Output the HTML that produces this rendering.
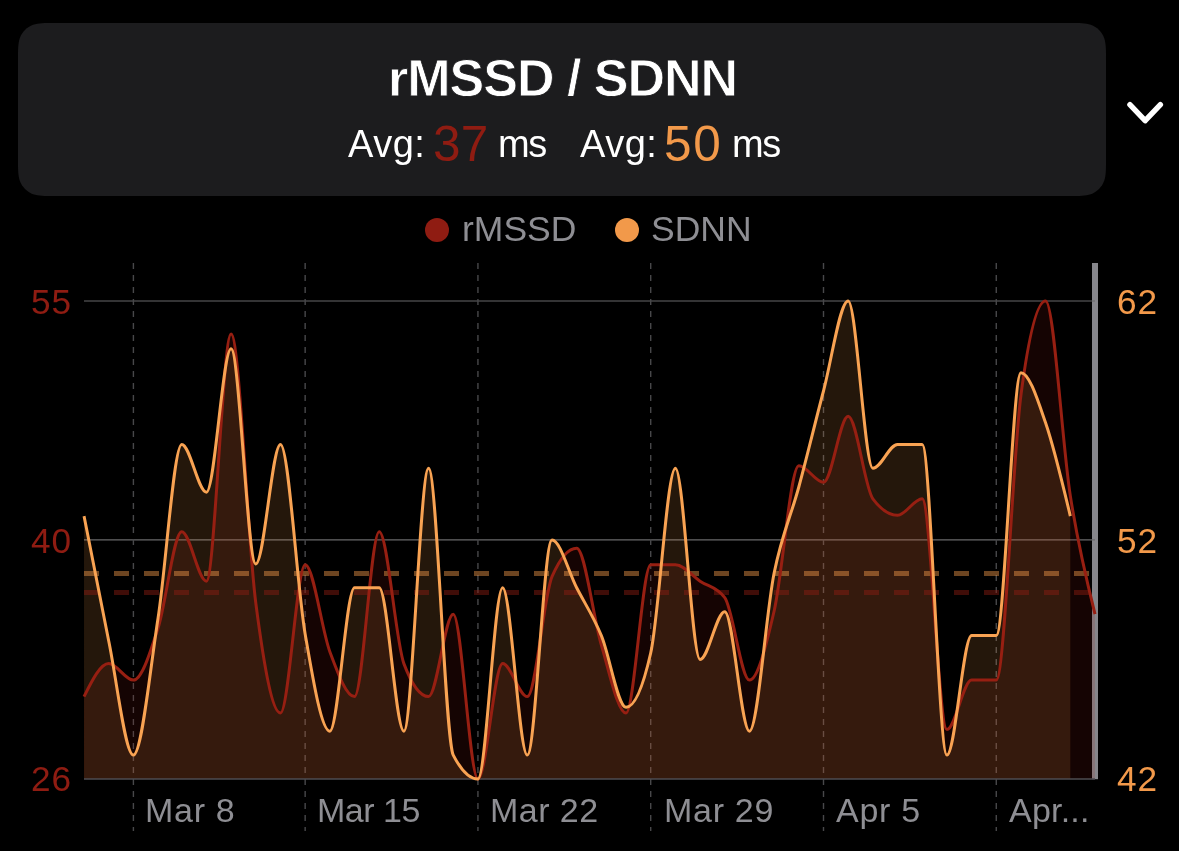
<!DOCTYPE html>
<html><head><meta charset="utf-8">
<style>
html,body{margin:0;padding:0;background:#000;}
body{width:1179px;height:851px;position:relative;overflow:hidden;font-family:"Liberation Sans",sans-serif;}
.card{position:absolute;left:18px;top:23px;width:1088px;height:173px;background:#1c1c1e;border-radius:27px;}
.t{position:absolute;white-space:nowrap;line-height:1;}
.t,.yl,.xl{transform:translateZ(0);will-change:transform;}
.title{left:387.5px;top:51.5px;font-size:52px;font-weight:bold;color:#fff;letter-spacing:-1.0px;-webkit-text-stroke:0.8px #1c1c1e;}
.avg{font-size:38px;color:#fff;top:124.5px;}
.big{font-size:49.5px;top:119.2px;}
.leg{font-size:35.5px;color:#8e8e93;top:211.5px;letter-spacing:0px;}
.dot{position:absolute;width:24px;height:24px;border-radius:50%;top:218px;}
.yl{position:absolute;font-size:35.2px;line-height:1;white-space:nowrap;letter-spacing:0.9px;}
.xl{position:absolute;top:792.5px;font-size:34px;line-height:1;color:#8e8e93;white-space:nowrap;letter-spacing:0.2px;}
svg{position:absolute;left:0;top:0;}
</style></head><body>
<svg width="1179" height="220" viewBox="0 0 1179 220"><path d="M54.69,23.00L1069.31,23.00C1079.88,23.00 1085.16,23.00 1090.84,24.80C1097.05,27.06 1101.94,31.95 1104.20,38.16C1106.00,43.84 1106.00,49.12 1106.00,59.69L1106.00,159.31C1106.00,169.88 1106.00,175.16 1104.20,180.84C1101.94,187.05 1097.05,191.94 1090.84,194.20C1085.16,196.00 1079.88,196.00 1069.31,196.00L54.69,196.00C44.12,196.00 38.84,196.00 33.16,194.20C26.95,191.94 22.06,187.05 19.80,180.84C18.00,175.16 18.00,169.88 18.00,159.31L18.00,59.69C18.00,49.12 18.00,43.84 19.80,38.16C22.06,31.95 26.95,27.06 33.16,24.80C38.84,23.00 44.12,23.00 54.69,23.00Z" fill="#1c1c1e"/></svg>
<div class="t title">rMSSD / SDNN</div>
<div class="t avg" style="left:348.3px;letter-spacing:0.5px">Avg:</div>
<div class="t big" style="left:433.0px;color:#8f1c12;letter-spacing:0.3px">37</div>
<div class="t avg" style="left:498.3px;letter-spacing:-1.5px">ms</div>
<div class="t avg" style="left:579.6px;letter-spacing:0.5px">Avg:</div>
<div class="t big" style="left:664.0px;color:#f2994a;letter-spacing:1.8px">50</div>
<div class="t avg" style="left:732.2px;letter-spacing:-1.5px">ms</div>
<div class="dot" style="left:425px;background:#8f1c12"></div>
<div class="t leg" style="left:462px;">rMSSD</div>
<div class="dot" style="left:615px;background:#f2994a"></div>
<div class="t leg" style="left:651px;">SDNN</div>

<svg width="1179" height="851" viewBox="0 0 1179 851">
  <rect x="1092" y="263" width="6" height="516.2" fill="#86868b"/>
  <g stroke="#68686a" stroke-width="1.2" fill="none">
    <line x1="84" y1="301.0" x2="1095" y2="301.0"/>
    <line x1="84" y1="539.9" x2="1095" y2="539.9"/>
  </g>
  <g stroke="#48484a" stroke-width="1.4" stroke-dasharray="6 6" fill="none"><line x1="133.40" y1="263" x2="133.40" y2="831" /><line x1="305.15" y1="263" x2="305.15" y2="831" /><line x1="477.93" y1="263" x2="477.93" y2="831" /><line x1="650.71" y1="263" x2="650.71" y2="831" /><line x1="823.50" y1="263" x2="823.50" y2="831" /><line x1="996.28" y1="263" x2="996.28" y2="831" /></g>
  <path d="M84.03,696.59C92.26,680.10 100.49,663.62 108.72,663.62C116.94,663.62 125.17,680.10 133.40,680.10C141.63,680.10 149.86,653.59 158.08,628.00C165.97,603.47 173.85,531.75 181.74,531.75C189.97,531.75 198.19,581.20 206.42,581.20C214.65,581.20 222.88,333.96 231.10,333.96C239.33,333.96 247.56,539.82 255.79,603.00C264.01,666.18 272.24,713.07 280.47,713.07C288.70,713.07 296.92,564.72 305.15,564.72C313.38,564.72 321.61,629.72 329.84,651.70C338.06,673.68 346.29,696.59 354.52,696.59C362.75,696.59 370.97,531.75 379.20,531.75C387.43,531.75 395.66,641.64 403.88,663.62C412.11,685.60 420.34,696.59 428.57,696.59C436.80,696.59 445.02,614.17 453.25,614.17C461.48,614.17 469.71,779.00 477.93,779.00C486.16,779.00 494.39,663.62 502.62,663.62C510.84,663.62 519.07,696.59 527.30,696.59C535.53,696.59 543.75,595.67 551.98,576.70C560.21,557.73 568.44,548.24 576.67,548.24C584.89,548.24 593.12,617.53 601.35,645.00C609.58,672.47 617.80,713.07 626.03,713.07C634.26,713.07 642.49,564.72 650.71,564.72C658.94,564.72 667.17,564.72 675.40,564.72C683.63,564.72 691.85,575.71 700.08,581.20C708.31,586.70 716.54,586.70 724.76,597.69C732.99,608.68 741.22,680.10 749.45,680.10C757.67,680.10 765.90,646.71 774.13,611.00C782.36,575.29 790.58,465.82 798.81,465.82C807.04,465.82 815.27,482.31 823.50,482.31C831.72,482.31 839.95,416.37 848.18,416.37C856.41,416.37 864.63,487.80 872.86,498.79C881.09,509.78 889.32,515.27 897.54,515.27C905.77,515.27 914.00,498.79 922.23,498.79C930.46,498.79 938.68,729.55 946.91,729.55C955.14,729.55 963.37,680.10 971.59,680.10C979.82,680.10 988.05,680.10 996.28,680.10C1004.50,680.10 1012.73,457.67 1020.96,395.00C1029.19,332.33 1037.41,300.99 1045.64,300.99C1053.87,300.99 1062.10,443.80 1070.33,496.00C1078.55,548.20 1086.78,581.18 1095.01,614.17L1095.01,779.00 L84.03,779.00 Z" fill="#8f1c12" fill-opacity="0.15"/>
  <path d="M84.03,516.10C92.26,558.63 100.49,601.17 108.72,641.00C116.94,680.83 125.17,755.10 133.40,755.10C141.63,755.10 149.86,671.20 158.08,618.00C165.97,567.02 173.85,444.40 181.74,444.40C189.97,444.40 198.19,492.20 206.42,492.20C214.65,492.20 222.88,348.80 231.10,348.80C239.33,348.80 247.56,563.90 255.79,563.90C264.01,563.90 272.24,444.40 280.47,444.40C288.70,444.40 296.92,586.20 305.15,634.00C313.38,681.80 321.61,731.20 329.84,731.20C338.06,731.20 346.29,587.80 354.52,587.80C362.75,587.80 370.97,587.80 379.20,587.80C387.43,587.80 395.66,731.20 403.88,731.20C412.11,731.20 420.34,468.30 428.57,468.30C436.80,468.30 445.02,739.17 453.25,755.10C461.48,771.03 469.71,779.00 477.93,779.00C486.16,779.00 494.39,587.80 502.62,587.80C510.84,587.80 519.07,755.10 527.30,755.10C535.53,755.10 543.75,540.00 551.98,540.00C560.21,540.00 568.44,571.87 576.67,587.80C584.89,603.73 593.12,615.68 601.35,635.60C609.58,655.52 617.80,707.30 626.03,707.30C634.26,707.30 642.49,689.20 650.71,653.00C658.94,616.80 667.17,468.30 675.40,468.30C683.63,468.30 691.85,659.50 700.08,659.50C708.31,659.50 716.54,611.70 724.76,611.70C732.99,611.70 741.22,731.20 749.45,731.20C757.67,731.20 765.90,613.70 774.13,573.00C782.36,532.30 790.58,517.33 798.81,487.00C807.04,456.67 815.27,422.00 823.50,391.00C831.72,360.00 839.95,301.00 848.18,301.00C856.41,301.00 864.63,468.30 872.86,468.30C881.09,468.30 889.32,444.40 897.54,444.40C905.77,444.40 914.00,444.40 922.23,444.40C930.46,444.40 938.68,755.10 946.91,755.10C955.14,755.10 963.37,635.60 971.59,635.60C979.82,635.60 988.05,635.60 996.28,635.60C1004.50,635.60 1012.73,372.70 1020.96,372.70C1029.19,372.70 1037.41,399.10 1045.64,423.00C1053.87,446.90 1062.10,481.50 1070.33,516.10L1070.33,779.00 L84.03,779.00 Z" fill="#f2994a" fill-opacity="0.15"/>
  <line x1="84" y1="779.0" x2="1095" y2="779.0" stroke="#4e4c52" stroke-width="1.5"/>
  <line x1="84" y1="592.5" x2="1095" y2="592.5" stroke="#8f1c12" stroke-opacity="0.45" stroke-width="5" stroke-dasharray="15 15"/>
  <line x1="84" y1="573.6" x2="1095" y2="573.6" stroke="#f2994a" stroke-opacity="0.45" stroke-width="5" stroke-dasharray="15 15"/>
  <path d="M84.03,696.59C92.26,680.10 100.49,663.62 108.72,663.62C116.94,663.62 125.17,680.10 133.40,680.10C141.63,680.10 149.86,653.59 158.08,628.00C165.97,603.47 173.85,531.75 181.74,531.75C189.97,531.75 198.19,581.20 206.42,581.20C214.65,581.20 222.88,333.96 231.10,333.96C239.33,333.96 247.56,539.82 255.79,603.00C264.01,666.18 272.24,713.07 280.47,713.07C288.70,713.07 296.92,564.72 305.15,564.72C313.38,564.72 321.61,629.72 329.84,651.70C338.06,673.68 346.29,696.59 354.52,696.59C362.75,696.59 370.97,531.75 379.20,531.75C387.43,531.75 395.66,641.64 403.88,663.62C412.11,685.60 420.34,696.59 428.57,696.59C436.80,696.59 445.02,614.17 453.25,614.17C461.48,614.17 469.71,779.00 477.93,779.00C486.16,779.00 494.39,663.62 502.62,663.62C510.84,663.62 519.07,696.59 527.30,696.59C535.53,696.59 543.75,595.67 551.98,576.70C560.21,557.73 568.44,548.24 576.67,548.24C584.89,548.24 593.12,617.53 601.35,645.00C609.58,672.47 617.80,713.07 626.03,713.07C634.26,713.07 642.49,564.72 650.71,564.72C658.94,564.72 667.17,564.72 675.40,564.72C683.63,564.72 691.85,575.71 700.08,581.20C708.31,586.70 716.54,586.70 724.76,597.69C732.99,608.68 741.22,680.10 749.45,680.10C757.67,680.10 765.90,646.71 774.13,611.00C782.36,575.29 790.58,465.82 798.81,465.82C807.04,465.82 815.27,482.31 823.50,482.31C831.72,482.31 839.95,416.37 848.18,416.37C856.41,416.37 864.63,487.80 872.86,498.79C881.09,509.78 889.32,515.27 897.54,515.27C905.77,515.27 914.00,498.79 922.23,498.79C930.46,498.79 938.68,729.55 946.91,729.55C955.14,729.55 963.37,680.10 971.59,680.10C979.82,680.10 988.05,680.10 996.28,680.10C1004.50,680.10 1012.73,457.67 1020.96,395.00C1029.19,332.33 1037.41,300.99 1045.64,300.99C1053.87,300.99 1062.10,443.80 1070.33,496.00C1078.55,548.20 1086.78,581.18 1095.01,614.17" fill="none" stroke="#971f12" stroke-width="3" stroke-linejoin="round" stroke-linecap="butt"/>
  <path d="M84.03,516.10C92.26,558.63 100.49,601.17 108.72,641.00C116.94,680.83 125.17,755.10 133.40,755.10C141.63,755.10 149.86,671.20 158.08,618.00C165.97,567.02 173.85,444.40 181.74,444.40C189.97,444.40 198.19,492.20 206.42,492.20C214.65,492.20 222.88,348.80 231.10,348.80C239.33,348.80 247.56,563.90 255.79,563.90C264.01,563.90 272.24,444.40 280.47,444.40C288.70,444.40 296.92,586.20 305.15,634.00C313.38,681.80 321.61,731.20 329.84,731.20C338.06,731.20 346.29,587.80 354.52,587.80C362.75,587.80 370.97,587.80 379.20,587.80C387.43,587.80 395.66,731.20 403.88,731.20C412.11,731.20 420.34,468.30 428.57,468.30C436.80,468.30 445.02,739.17 453.25,755.10C461.48,771.03 469.71,779.00 477.93,779.00C486.16,779.00 494.39,587.80 502.62,587.80C510.84,587.80 519.07,755.10 527.30,755.10C535.53,755.10 543.75,540.00 551.98,540.00C560.21,540.00 568.44,571.87 576.67,587.80C584.89,603.73 593.12,615.68 601.35,635.60C609.58,655.52 617.80,707.30 626.03,707.30C634.26,707.30 642.49,689.20 650.71,653.00C658.94,616.80 667.17,468.30 675.40,468.30C683.63,468.30 691.85,659.50 700.08,659.50C708.31,659.50 716.54,611.70 724.76,611.70C732.99,611.70 741.22,731.20 749.45,731.20C757.67,731.20 765.90,613.70 774.13,573.00C782.36,532.30 790.58,517.33 798.81,487.00C807.04,456.67 815.27,422.00 823.50,391.00C831.72,360.00 839.95,301.00 848.18,301.00C856.41,301.00 864.63,468.30 872.86,468.30C881.09,468.30 889.32,444.40 897.54,444.40C905.77,444.40 914.00,444.40 922.23,444.40C930.46,444.40 938.68,755.10 946.91,755.10C955.14,755.10 963.37,635.60 971.59,635.60C979.82,635.60 988.05,635.60 996.28,635.60C1004.50,635.60 1012.73,372.70 1020.96,372.70C1029.19,372.70 1037.41,399.10 1045.64,423.00C1053.87,446.90 1062.10,481.50 1070.33,516.10" fill="none" stroke="#f9a353" stroke-width="3" stroke-linejoin="round" stroke-linecap="butt"/>
  <path d="M1129.9,104.6 L1145.15,120.7 L1160.4,104.6" fill="none" stroke="#fff" stroke-width="5.4" stroke-linecap="round" stroke-linejoin="round"/>
</svg>

<div class="yl" style="left:31px;top:283.7px;color:#8f1c12">55</div>
<div class="yl" style="left:31px;top:522.7px;color:#8f1c12">40</div>
<div class="yl" style="left:31px;top:760.8px;color:#8f1c12">26</div>
<div class="yl" style="left:1116.5px;top:283.7px;color:#f2994a">62</div>
<div class="yl" style="left:1116.5px;top:522.7px;color:#f2994a">52</div>
<div class="yl" style="left:1116.5px;top:760.8px;color:#f2994a">42</div>
<div class="xl" style="left:145.1px;letter-spacing:0.70px">Mar 8</div><div class="xl" style="left:317.3px;letter-spacing:-0.50px">Mar 15</div><div class="xl" style="left:490.0px;letter-spacing:0.45px">Mar 22</div><div class="xl" style="left:663.6px;letter-spacing:0.70px">Mar 29</div><div class="xl" style="left:836.3px;letter-spacing:0.70px">Apr 5</div><div class="xl" style="left:1009.2px;letter-spacing:0.20px">Apr...</div>
</body></html>
